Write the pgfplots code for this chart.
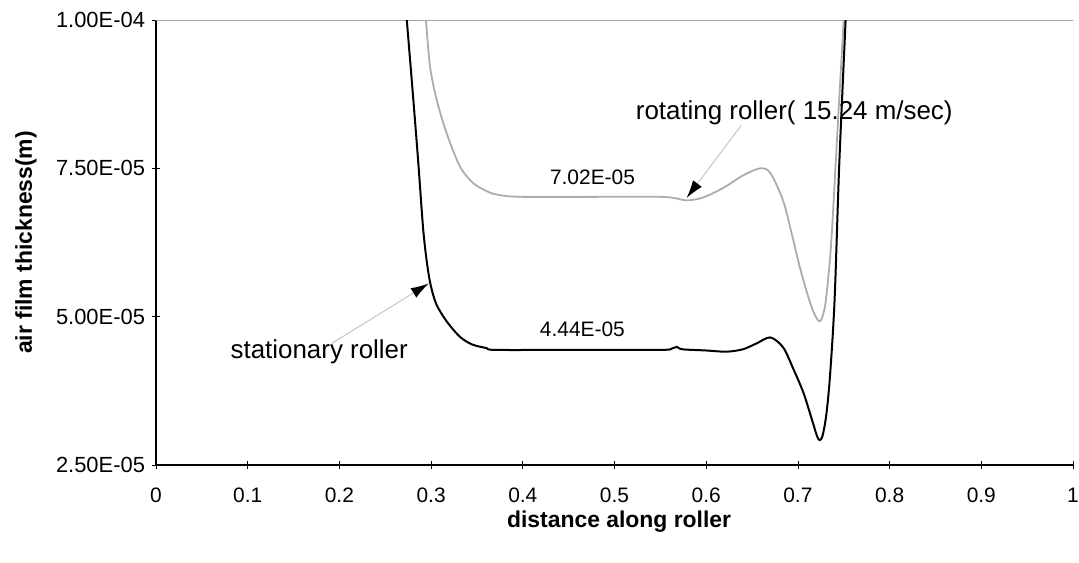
\documentclass[border=0pt]{standalone}
\usepackage{fontspec}
\setmainfont{Liberation Sans}
\usepackage{pgfplots}
\pgfplotsset{compat=1.18}
\usetikzlibrary{arrows.meta}

\begin{document}
\begin{tikzpicture}
  % page = 1079 x 563 px at 0.5bp per px, axis origin at (156px, 465px from top)
  \path[use as bounding box] (-78bp,-49bp) rectangle (461.5bp,232.5bp);
  \begin{axis}[
    at={(0,0)}, anchor=south west,
    width=458.5bp, height=222.5bp, scale only axis,
    xmin=0, xmax=1, ymin=2.5e-5, ymax=1e-4,
    axis x line=bottom, axis y line=left,
    axis line style={-, black, line width=0.6bp},
    xtick={0,0.1,0.2,0.3,0.4,0.5,0.6,0.7,0.8,0.9,1},
    xticklabels={0,0.1,0.2,0.3,0.4,0.5,0.6,0.7,0.8,0.9,1},
    ytick={2.5e-5,5e-5,7.5e-5,1e-4},
    yticklabels={2.50E-05,5.00E-05,7.50E-05,1.00E-04},
    scaled y ticks=false,
    tick align=center, major tick length=4bp,
    tick style={black, line width=0.4bp},
    xticklabel style={font=\fontsize{10.5}{12}\selectfont, yshift=-6bp},
    yticklabel style={font=\fontsize{11}{13}\selectfont},
    xlabel={\textbf{distance along roller}},
    ylabel={\textbf{air film thickness(m)}},
    every axis x label/.style={at={(axis description cs:0.505,0)}, anchor=center, yshift=-28.5bp,
      font=\fontsize{11.5}{13}\selectfont},
    every axis y label/.style={at={(axis description cs:-0.1418,0.5)}, anchor=center, rotate=90,
      font=\fontsize{11.5}{13}\selectfont},
  ]
  % plot area frame (top and right)
  \draw[gray!70, line width=0.5bp] (rel axis cs:0,1) -- (rel axis cs:1,1) -- (rel axis cs:1,0);

  % rotating roller (15.24 m/sec)
  \addplot[gray!65, line width=0.9bp, smooth, tension=0.5] coordinates {
    (0.2944,1.00e-4) (0.2988,9.22e-5) (0.306,8.66e-5) (0.317,8.09e-5) (0.3315,7.53e-5)
    (0.346,7.25e-5) (0.360,7.12e-5) (0.3713,7.06e-5) (0.397,7.02e-5) (0.50,7.02e-5)
    (0.55,7.02e-5) (0.565,7.00e-5) (0.579,6.96e-5) (0.595,7.00e-5) (0.61,7.10e-5)
    (0.622,7.20e-5) (0.64,7.38e-5) (0.659,7.50e-5) (0.670,7.42e-5) (0.684,6.95e-5)
    (0.694,6.35e-5) (0.702,5.84e-5) (0.710,5.40e-5) (0.717,5.08e-5) (0.724,4.92e-5)
    (0.7295,5.17e-5) (0.734,5.80e-5) (0.737,6.41e-5) (0.742,7.81e-5) (0.745,8.66e-5)
    (0.750,1.00e-4)
  };

  % stationary roller
  \addplot[black, line width=1bp, smooth, tension=0.5] coordinates {
    (0.2735,1.00e-4) (0.2806,8.66e-5) (0.2860,7.60e-5) (0.2915,6.45e-5) (0.2960,5.85e-5)
    (0.3000,5.50e-5) (0.306,5.20e-5) (0.317,4.92e-5) (0.3315,4.66e-5) (0.345,4.53e-5)
    (0.3606,4.47e-5) (0.370,4.44e-5) (0.45,4.44e-5) (0.55,4.44e-5) (0.562,4.46e-5)
    (0.568,4.49e-5) (0.574,4.45e-5) (0.60,4.43e-5) (0.622,4.41e-5) (0.64,4.45e-5)
    (0.655,4.55e-5) (0.670,4.65e-5) (0.684,4.48e-5) (0.695,4.12e-5) (0.706,3.72e-5)
    (0.715,3.28e-5) (0.721,2.98e-5) (0.724,2.92e-5) (0.727,3.00e-5) (0.731,3.35e-5)
    (0.735,4.00e-5) (0.740,5.28e-5) (0.745,7.53e-5) (0.7514,9.78e-5) (0.752,1.00e-4)
  };

  % annotations
  \node[font=\fontsize{10.5}{12}\selectfont] at (axis cs:0.476,7.35e-5) {7.02E-05};
  \node[font=\fontsize{10.5}{12}\selectfont] at (axis cs:0.465,4.78e-5) {4.44E-05};
  \node[font=\fontsize{13}{15}\selectfont] at (axis cs:0.696,8.43e-5) {rotating roller( 15.24 m/sec)};
  \node[font=\fontsize{13}{15}\selectfont] at (axis cs:0.178,4.41e-5) {stationary roller};
  \draw[gray!45, line width=0.5bp, -{Latex[color=black, length=9bp, width=5.5bp]}]
    (axis cs:0.6385,8.23e-5) -- (axis cs:0.5786,7.00e-5);
  \draw[gray!45, line width=0.5bp, -{Latex[color=black, length=9bp, width=5.5bp]}]
    (axis cs:0.1917,4.55e-5) -- (axis cs:0.2975,5.56e-5);
  \end{axis}
\end{tikzpicture}
\end{document}
